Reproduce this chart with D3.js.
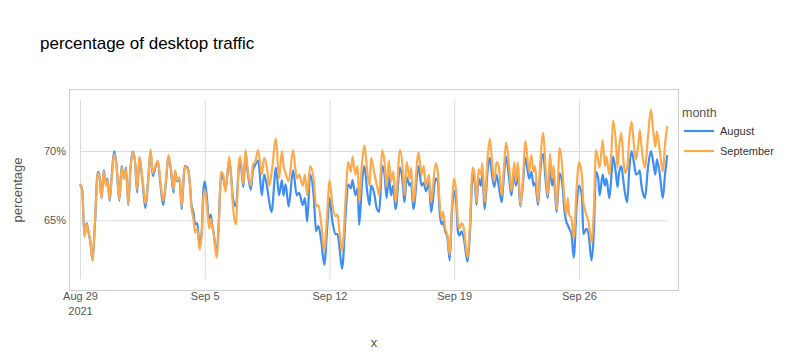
<!DOCTYPE html>
<html>
<head>
<meta charset="utf-8">
<script src="https://cdn.jsdelivr.net/npm/d3@7"></script>
<style>
  html, body { margin: 0; padding: 0; background: #fff; }
  svg { display: block; font-family: "Liberation Sans", Arial, Helvetica, sans-serif; }
</style>
</head>
<body>
<svg id="chart" width="791" height="360"></svg>
<script>
// ---- data ----
// hours since 2021-08-29 00:00
const hours = [0,3,6,9,12,14,17,20,24,26,29,32,35,37,40,43,46,49,53,56,59,62,65,68,71,
  74,77,80,84,88,92,95,98,102,105,108,112,116,119,122,126,128,131,134,137,139,141,145,148,150,153,155,158,161,164,166,168,
  171,174,176,178,180,184,187,190,193,196,201,204,206,210,211,214,216,220,223,226,230,233,
  236,240,245,248,252,255,258,264,268,272,274,277,281,287,292,295,300,303,306,310,315,
  318,321,325,329,333,336,340,344,347,349,353,358,361,365,367,371,374,376,380,383,387,390,392,396,
  400,403,407,410,413,416,419,422,425,431,435,437,440,444,446,449,456,460,463,466,470,473,479,
  482,484,487,489,492,495,498,501,504,507,509,511,514,517,522,525,529,532,534,537,540,542,545,549,552,555,558,561,
  564,568,570,574,578,581,585,587,590,593,596,600,605,608,611,613,617,620,624,627,630,633,636,638,642,
  646,650,652,655,657,659,662,665,669,672,676,678,682,685,689,692,695,698,700,704,707,709,713,716,718,722,724,726,
  729,732,734,737,740,743,746,749,752,754,756,758,761,765,769,772,775,777,781,785,788,791];

const august = [67.6,67.2,63.9,64.8,64.0,63.4,62.1,64.6,68.5,68.3,66.6,68.6,67.6,68.0,66.4,68.4,70.0,69.1,66.4,68.9,68.0,68.8,66.1,68.8,69.95,
  69.3,67.0,69.5,67.9,65.9,68.0,70.0,68.2,68.9,69.2,67.8,66.1,67.9,69.6,68.8,67.0,68.5,67.8,68.0,65.8,67.5,68.9,68.8,67.7,66.2,65.5,64.7,64.8,63.2,64.2,67.0,67.8,
  66.6,64.8,65.4,64.7,64.1,62.6,64.9,68.3,68.0,67.3,69.3,67.9,66.6,66.0,66.4,68.8,69.2,67.4,69.8,68.4,67.2,68.6,
  69.0,69.3,66.8,68.3,67.4,66.3,65.6,68.8,66.8,67.9,66.8,67.6,66.0,68.6,66.8,67.0,66.1,66.6,64.9,68.3,66.6,
  64.2,64.6,63.5,61.8,64.5,66.6,64.9,64.0,64.0,63.3,61.5,65.6,67.6,67.3,67.9,66.8,67.3,64.66,67.8,68.9,67.0,66.1,67.5,67.0,
  65.8,65.6,68.9,68.4,66.6,68.2,66.8,67.5,65.8,68.8,67.5,66.3,68.1,67.5,67.7,65.8,68.9,67.5,67.7,67.1,67.7,65.6,68.0,
  67.8,65.9,64.7,64.9,64.2,63.7,62.1,65.6,67.1,66.1,64.2,63.9,64.2,63.7,62.0,63.9,68.3,67.5,66.1,68.0,67.5,68.3,65.8,68.6,69.5,68.3,67.4,68.3,
  67.5,66.3,67.5,69.6,68.0,66.8,68.5,67.5,68.3,66.0,67.3,69.5,68.0,68.5,67.5,67.7,66.1,68.5,69.8,68.0,66.6,68.7,67.5,68.1,65.6,
  68.4,67.4,66.0,64.9,64.66,64.4,64.0,62.3,66.1,67.5,66.8,64.0,64.4,64.0,62.1,64.0,68.5,68.0,66.8,68.3,67.5,68.0,66.6,68.4,69.6,68.3,67.4,68.4,
  68.9,67.8,67.0,66.3,68.8,70.0,69.2,68.3,68.4,68.6,67.6,67.0,66.6,68.8,70.0,69.2,68.3,69.4,68.3,66.6,68.3,69.7];

const september = [67.6,67.1,63.8,64.7,64.0,63.5,62.1,64.8,68.4,68.2,66.6,68.5,67.5,67.9,66.5,68.3,69.8,69.0,66.5,68.8,68.0,68.7,66.2,68.7,69.9,
  69.3,67.2,69.6,68.1,66.2,68.0,70.1,68.4,69.0,69.3,68.0,66.4,68.0,69.7,68.9,67.2,68.6,67.9,68.1,66.0,67.5,68.85,68.7,67.6,66.0,65.0,64.1,64.4,62.9,64.0,66.5,67.2,
  66.1,64.4,65.1,64.5,64.0,62.3,64.7,68.5,68.3,67.06,69.6,67.8,66.0,64.7,65.5,69.2,69.6,67.6,70.07,68.6,67.5,69.0,
  69.2,70.07,68.3,69.5,68.7,67.5,68.4,70.9,68.0,70.0,69.0,68.4,67.8,70.07,68.0,68.3,67.5,68.3,66.8,68.9,67.8,
  66.0,66.1,64.7,62.8,65.5,67.9,66.1,65.3,65.4,64.4,62.8,66.8,69.2,68.5,69.6,68.3,68.9,66.3,69.2,70.4,68.5,67.5,69.5,68.5,
  67.5,66.8,70.07,69.3,67.4,69.3,67.8,68.5,66.3,70.07,68.5,66.8,69.2,68.0,68.8,66.3,69.9,68.3,68.9,67.4,68.3,66.3,69.1,
  68.5,66.6,65.1,65.6,64.4,63.9,62.5,66.1,68.0,66.8,64.9,64.4,64.8,64.4,62.3,64.4,68.8,68.0,66.3,68.7,68.3,69.1,66.3,69.5,70.9,69.2,67.8,69.2,
  68.9,66.8,68.0,70.6,68.9,67.1,69.2,67.8,69.2,66.1,67.5,70.7,68.5,69.7,68.5,68.9,66.3,69.2,71.3,68.8,66.8,69.8,68.0,68.9,65.8,
  70.2,68.5,66.8,65.4,66.6,65.4,65.1,63.7,67.4,69.2,68.3,66.3,65.4,64.9,63.4,65.6,70.07,69.3,68.8,70.8,68.9,69.6,68.3,70.2,72.2,70.5,68.8,70.2,
  71.3,69.3,68.4,68.8,71.0,72.1,70.5,69.4,70.5,71.5,70.5,69.5,68.8,71.0,73.0,71.5,70.3,71.4,70.0,68.5,70.5,71.8];

const seriesNames = ["August", "September"];
const seriesColors = ["#3f8ef4", "#fbaa4e"];
const yTicks = [65, 70];
const xTickDates = ["2021-08-29", "2021-09-05", "2021-09-12", "2021-09-19", "2021-09-26"];
const xTickLabels = ["Aug 29", "Sep 5", "Sep 12", "Sep 19", "Sep 26"];

// ---- layout ----
const svg = d3.select("#chart");
const plot = { left: 80, right: 668, top: 100, bottom: 279 };
const start = new Date(2021, 7, 29, 0, 0);
const toDate = h => new Date(start.getTime() + h * 3600 * 1000);

const x = d3.scaleTime()
  .domain([start, new Date(2021, 9, 1, 0, 0)])
  .range([plot.left, plot.right]);
const y = d3.scaleLinear()
  .domain([60.76, 73.68])
  .range([plot.bottom, plot.top]);

// frame
svg.append("rect")
  .attr("x", 69.5).attr("y", 89.5)
  .attr("width", 609).attr("height", 201)
  .attr("fill", "none").attr("stroke", "#cfcfcf").attr("stroke-width", 1);

// grid lines
const tickDates = xTickDates.map(s => { const p = s.split("-"); return new Date(+p[0], +p[1] - 1, +p[2]); });
const gx = svg.append("g").attr("transform", `translate(0,${plot.bottom})`)
  .call(d3.axisBottom(x).tickValues(tickDates).tickSize(-(plot.bottom - plot.top)).tickFormat(""));
gx.select(".domain").remove();
gx.selectAll("line").attr("stroke", "#dcdcdc");

const gy = svg.append("g").attr("transform", `translate(${plot.left},0)`)
  .call(d3.axisLeft(y).tickValues(yTicks).tickSize(-(plot.right - plot.left)).tickFormat(""));
gy.select(".domain").remove();
gy.selectAll("line").attr("stroke", "#dcdcdc");

// axes labels
const ax = svg.append("g").attr("transform", `translate(0,${plot.bottom + 13})`)
  .call(d3.axisBottom(x).tickValues(tickDates).tickSize(0).tickPadding(0)
    .tickFormat((d, i) => xTickLabels[i]));
ax.select(".domain").remove();
ax.selectAll("text").attr("font-size", 11).attr("fill", "#555")
  .attr("font-family", "Liberation Sans, Arial, sans-serif").attr("dy", "0.71em");
ax.selectAll(".tick").filter((d, i) => i === 0).append("text")
  .attr("y", 15).attr("dy", "0.71em").attr("text-anchor", "middle")
  .attr("font-size", 11).attr("fill", "#555").text("2021");

const ay = svg.append("g").attr("transform", `translate(${plot.left},0)`)
  .call(d3.axisLeft(y).tickValues(yTicks).tickSize(0).tickPadding(14).tickFormat(d => d + "%"));
ay.select(".domain").remove();
ay.selectAll("text").attr("font-size", 11).attr("fill", "#555")
  .attr("font-family", "Liberation Sans, Arial, sans-serif");

// lines
const seriesData = [august, september];
const line = d3.line()
  .x(d => x(toDate(d[0])))
  .y(d => y(d[1]))
  .curve(d3.curveMonotoneX);
seriesData.forEach((vals, si) => {
  svg.append("path")
    .datum(hours.map((h, i) => [h, vals[i]]))
    .attr("fill", "none")
    .attr("stroke", seriesColors[si])
    .attr("stroke-width", 2.2)
    .attr("stroke-linejoin", "round")
    .attr("d", line);
});

// titles
svg.append("text").attr("x", 40).attr("y", 49)
  .attr("font-size", 17).attr("fill", "#000").text("percentage of desktop traffic");
svg.append("text").attr("transform", "translate(22,190) rotate(-90)")
  .attr("text-anchor", "middle").attr("font-size", 13).attr("fill", "#555").text("percentage");
svg.append("text").attr("x", 374).attr("y", 347)
  .attr("text-anchor", "middle").attr("font-size", 13).attr("fill", "#555").text("x");

// legend
const lg = svg.append("g");
lg.append("text").attr("x", 682).attr("y", 117).attr("font-size", 12.5).attr("fill", "#555").text("month");
seriesNames.forEach((name, i) => {
  const yy = 131 + i * 20;
  lg.append("line").attr("x1", 684).attr("x2", 714).attr("y1", yy).attr("y2", yy)
    .attr("stroke", seriesColors[i]).attr("stroke-width", 2.2);
  lg.append("text").attr("x", 720).attr("y", yy + 4).attr("font-size", 11).attr("fill", "#333").text(name);
});
</script>
</body>
</html>
